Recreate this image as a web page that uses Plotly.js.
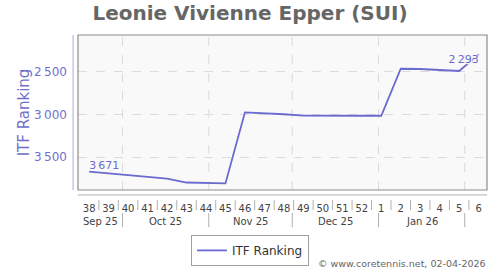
<!DOCTYPE html>
<html><head><meta charset="utf-8">
<script src="https://cdn.plot.ly/plotly-3.0.1.min.js"></script>
<style>html,body{margin:0;padding:0;background:#fff}#chart{width:500px;height:270px}</style>
</head><body><div id="chart"></div>
<script>
// ---- data ----
const weekDates = ['2025-09-19','2025-09-26','2025-10-03','2025-10-10','2025-10-17','2025-10-24','2025-10-31',
  '2025-11-07','2025-11-14','2025-11-21','2025-11-28','2025-12-05','2025-12-12','2025-12-19','2025-12-26',
  '2026-01-02','2026-01-09','2026-01-16','2026-01-23','2026-01-30','2026-02-06'];
const weekLabels = ['38','39','40','41','42','43','44','45','46','47','48','49','50','51','52','1','2','3','4','5','6'];
const rankings = [3671,3690,3715,3733,3755,3800,3808,3810,2975,2985,2997,3014,3012,3014,3015,3015,2462,2465,2475,2488,2293];
const monthStarts = ['2025-09-01','2025-10-01','2025-11-01','2025-12-01','2026-01-01','2026-02-01','2026-03-01'];
const monthLabels = ['Sep 25','Oct 25','Nov 25','Dec 25','Jan 26',''];
const yTicks = [2500,3000,3500];
const xRange = ['2025-09-15','2026-02-09'];
const yRange = [3888,2065];
const seriesName = 'ITF Ranking';
const chartTitle = 'Leonie Vivienne Epper (SUI)';
const credits = '\u00a9 www.coretennis.net, 02-04-2026';

// ---- helpers ----
const fmt = v => String(v).replace(/\B(?=(\d{3})+(?!\d))/g, '\u2009');
const ms = s => new Date(s).getTime();
const iso = t => new Date(t).toISOString().replace('T',' ').replace('Z','');
const r0 = ms(xRange[0]), r1 = ms(xRange[1]);

const shapes = [];
const annotations = [];

// plot frame and offset axis lines
shapes.push({type:'rect',xref:'paper',yref:'paper',x0:0,x1:1,y0:0,y1:1,line:{color:'#8c8c8c',width:1.2},layer:'above'});
shapes.push({type:'line',xref:'paper',yref:'paper',x0:-0.012,x1:-0.012,y0:0,y1:1,line:{color:'#b8b8e8',width:1.2}});
shapes.push({type:'line',xref:'paper',yref:'paper',x0:0,x1:1,y0:-0.032,y1:-0.032,line:{color:'#b0b0b0',width:1}});

// week separators between labels
for (let i = 0; i < weekDates.length - 1; i++) {
  const m = (ms(weekDates[i]) + ms(weekDates[i+1])) / 2;
  shapes.push({type:'line',xref:'x',yref:'paper',x0:iso(m),x1:iso(m),y0:-0.065,y1:-0.13,line:{color:'#b0b0b0',width:1}});
}
// month gridlines, separators, labels
for (let i = 0; i < monthLabels.length; i++) {
  const s = ms(monthStarts[i]), e = ms(monthStarts[i+1]);
  if (s > r0 && s < r1) {
    shapes.push({type:'line',xref:'x',yref:'paper',x0:monthStarts[i],x1:monthStarts[i],y0:0,y1:1,layer:'below',line:{color:'#dadada',width:1,dash:'dash'}});
    shapes.push({type:'line',xref:'x',yref:'paper',x0:monthStarts[i],x1:monthStarts[i],y0:-0.148,y1:-0.24,line:{color:'#b0b0b0',width:1}});
  }
  if (monthLabels[i]) {
    const c = (Math.max(s, r0) + Math.min(e, r1)) / 2;
    annotations.push({xref:'x',yref:'paper',x:iso(c),y:-0.2,text:monthLabels[i],showarrow:false,
      xanchor:'center',yanchor:'middle',font:{family:'DejaVu Sans',size:10,color:'#444'}});
  }
}
annotations.push({xref:'paper',yref:'paper',x:1.003,y:-0.471,text:credits,showarrow:false,xanchor:'right',yanchor:'middle',
  font:{family:'DejaVu Sans',size:9.5,color:'#666'}});

const labelText = rankings.map((v,i) => (i === 0 || i === rankings.length - 1) ? fmt(v) : '');
const labelPos = rankings.map((v,i) => i === rankings.length - 1 ? 'bottom left' : 'top right');

const trace = {
  x: weekDates, y: rankings, name: seriesName, type: 'scatter', mode: 'lines+text',
  line: {color:'#6a6acf', width:1.8},
  text: labelText, textposition: labelPos,
  textfont: {family:'DejaVu Sans', size:11, color:'#6a6acf', shadow:'1px 1px 1px #fafafa, -1px -1px 1px #fafafa, 1px -1px 1px #fafafa, -1px 1px 1px #fafafa'},
  hoverinfo: 'x+y'
};

const layout = {
  width: 500, height: 270,
  margin: {l:78, r:13, t:35, b:80, autoexpand:false},
  paper_bgcolor: '#ffffff', plot_bgcolor: '#f9f9f9',
  font: {family:'DejaVu Sans', color:'#444'},
  title: {text: chartTitle, font:{family:'DejaVu Sans', size:20, color:'#666', weight:'bold'},
    xref:'container', yref:'container', x:0.5, xanchor:'center', y:0.952, yanchor:'middle'},
  xaxis: {type:'date', range:xRange, tickmode:'array', tickvals:weekDates, ticktext:weekLabels,
    showgrid:false, zeroline:false, showline:false, ticks:'', ticklabelstandoff:11,
    tickfont:{family:'DejaVu Sans', size:10, color:'#444'}, fixedrange:true, automargin:false},
  yaxis: {range:yRange, tickmode:'array', tickvals:yTicks, ticktext:yTicks.map(fmt),
    showgrid:true, gridcolor:'#dcdcdc', griddash:'dash', gridwidth:1, zeroline:false, showline:false,
    ticks:'', ticklabelstandoff:10, automargin:false,
    tickfont:{family:'DejaVu Sans', size:12, color:'#7070cc'},
    title:{text:seriesName, font:{family:'DejaVu Sans', size:15, color:'#7070cc'}, standoff:0}},
  showlegend: true,
  legend: {orientation:'h', xref:'container', yref:'container', x:0.5, xanchor:'center', y:0.13, yanchor:'top',
    bgcolor:'#ffffff', bordercolor:'#a0a0a0', borderwidth:1,
    font:{family:'DejaVu Sans', size:12, color:'#333'}, itemwidth:30},
  shapes: shapes, annotations: annotations
};

Plotly.newPlot('chart', [trace], layout, {displayModeBar:false, staticPlot:true});
</script>
</body></html>
